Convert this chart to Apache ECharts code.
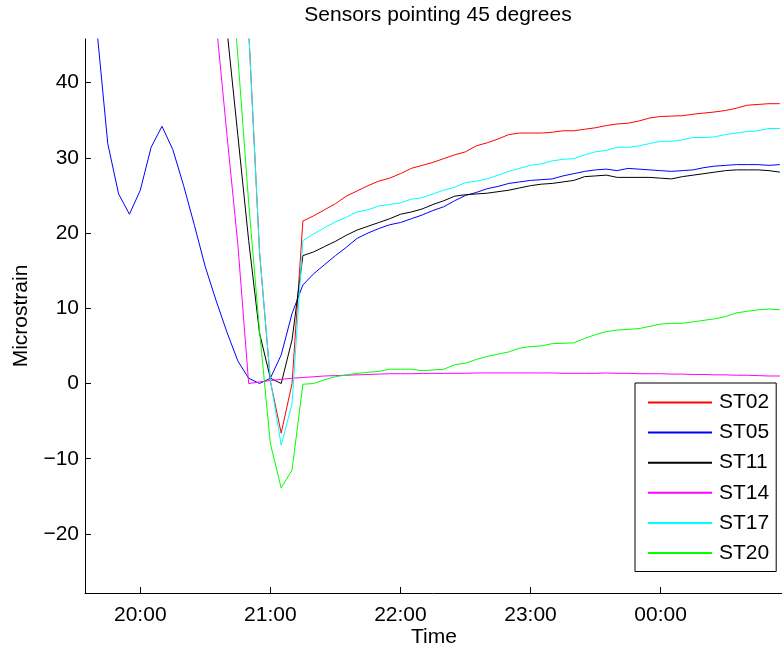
<!DOCTYPE html>
<html><head><meta charset="utf-8">
<script src="https://cdn.jsdelivr.net/npm/echarts@6/dist/echarts.min.js"></script>
<style>html,body{margin:0;padding:0;background:#fff}#c{width:782px;height:654px}</style>
</head><body><div id="c"></div>
<script>
const times = ["19:35","19:40","19:45","19:50","19:55","20:00","20:05","20:10","20:15","20:20",
"20:25","20:30","20:35","20:40","20:45","20:50","20:55","21:00","21:05","21:10",
"21:15","21:20","21:25","21:30","21:35","21:40","21:45","21:50","21:55","22:00",
"22:05","22:10","22:15","22:20","22:25","22:30","22:35","22:40","22:45","22:50",
"22:55","23:00","23:05","23:10","23:15","23:20","23:25","23:30","23:35","23:40",
"23:45","23:50","23:55","00:00","00:05","00:10","00:15","00:20","00:25","00:30",
"00:35","00:40","00:45","00:50","00:55"];

const ST02 = [null,null,null,null,null,null,null,null,null,null,
null,null,null,null,null,47,17.5,0.3,-6.6,0.0,
21.6,22.3,23.1,23.9,24.9,25.6,26.3,26.9,27.3,27.9,
28.6,29.0,29.4,29.9,30.4,30.8,31.6,32.0,32.5,33.1,
33.3,33.3,33.3,33.4,33.6,33.6,33.8,34.0,34.3,34.5,
34.6,34.9,35.3,35.5,35.55,35.6,35.8,35.95,36.1,36.3,
36.6,37.0,37.1,37.2,37.2];

const ST05 = [60,47,31.9,25.2,22.5,25.7,31.4,34.2,31.1,26.3,
21.0,15.5,11.0,6.8,3.0,0.7,0.0,0.7,3.8,9.3,
13.1,14.6,15.8,17.0,18.1,19.3,20.0,20.6,21.1,21.4,
21.9,22.4,23.0,23.5,24.3,25.0,25.4,25.9,26.2,26.6,
26.8,27.0,27.1,27.2,27.6,27.9,28.2,28.4,28.5,28.3,
28.6,28.5,28.4,28.3,28.2,28.3,28.4,28.7,28.9,29.0,
29.1,29.1,29.1,29.0,29.1];

const ST11 = [null,null,null,null,null,null,null,null,null,null,
null,null,61,47,33,19,6.7,0.7,0.0,5.8,
17.0,17.5,18.2,18.9,19.7,20.4,20.9,21.4,21.9,22.5,
22.8,23.2,23.8,24.3,24.9,25.1,25.2,25.3,25.5,25.7,
26.0,26.3,26.5,26.6,26.8,27.0,27.5,27.6,27.7,27.4,
27.4,27.4,27.4,27.3,27.2,27.5,27.7,27.9,28.1,28.3,
28.4,28.4,28.4,28.3,28.1];

const ST14 = [null,null,null,null,null,null,null,null,null,null,
null,null,48,33,18.5,0.0,0.2,0.4,0.55,0.7,
0.8,0.9,1.0,1.05,1.1,1.15,1.2,1.25,1.3,1.3,
1.3,1.35,1.35,1.35,1.35,1.35,1.4,1.4,1.4,1.4,
1.4,1.4,1.4,1.4,1.35,1.35,1.35,1.35,1.4,1.35,
1.35,1.3,1.3,1.3,1.25,1.25,1.2,1.2,1.15,1.15,
1.1,1.1,1.05,1.0,1.0];

const ST17 = [null,null,null,null,null,null,null,null,null,null,
null,null,null,null,null,47,17.5,0.5,-8.2,-2.7,
19.0,19.9,20.7,21.5,22.1,22.8,23.1,23.6,23.8,24.0,
24.5,24.7,25.2,25.7,26.1,26.7,26.9,27.2,27.7,28.2,
28.6,29.0,29.2,29.6,29.8,29.9,30.4,30.8,31.0,31.4,
31.4,31.6,31.9,32.2,32.2,32.4,32.7,32.7,32.8,33.1,
33.3,33.5,33.6,33.9,33.9];

const ST20 = [null,null,null,null,null,null,null,null,null,null,
null,null,null,62,43.5,24,7,-8.0,-13.9,-11.5,
-0.1,0.0,0.5,0.9,1.15,1.35,1.5,1.6,1.9,1.9,
1.9,1.7,1.8,1.9,2.5,2.7,3.2,3.6,3.9,4.2,
4.7,4.9,5.0,5.3,5.35,5.4,6.0,6.5,6.9,7.1,
7.2,7.3,7.6,7.9,8.0,8.0,8.2,8.4,8.6,8.9,
9.4,9.6,9.8,9.9,9.8];

const seriesNames = ["ST02","ST05","ST11","ST14","ST17","ST20"];
const seriesColors = ["#ff0000","#0000ff","#000000","#ff00ff","#00ffff","#00ff00"];
const xTickLabels = ["20:00","21:00","22:00","23:00","00:00"];
const yTickValues = [-20,-10,0,10,20,30,40];

function toMin(t){ let p=t.split(':').map(Number); let h=p[0]; if(h<12) h+=24; return (h-20)*60+p[1]; }
const xMinutes = times.map(toMin);
const xTickValues = xTickLabels.map(toMin);
const allSeries = [ST02,ST05,ST11,ST14,ST17,ST20];

const FONT = "'Liberation Sans', Arial, Helvetica, sans-serif";
const FS = 21;

const chart = echarts.init(document.getElementById('c'), null, {renderer:'canvas'});
chart.setOption({
  animation:false,
  backgroundColor:'#fff',
  color:seriesColors,
  textStyle:{fontFamily:FONT},
  grid:{left:85, right:0, top:39, bottom:61, containLabel:false},
  xAxis:{
    type:'value', min:-25.5, max:296,
    axisLine:{show:true, onZero:false, lineStyle:{color:'#000', width:1}},
    axisTick:{show:true, inside:true, length:6, customValues:xTickValues, lineStyle:{color:'#000'}},
    axisLabel:{show:true, customValues:xTickValues, margin:12, color:'#000', fontSize:FS, fontFamily:FONT,
      formatter:function(v){ const i=xTickValues.indexOf(v); return i>=0?xTickLabels[i]:''; }},
    splitLine:{show:false}
  },
  yAxis:{
    type:'value', min:-27.85, max:45.8,
    axisLine:{show:true, onZero:false, lineStyle:{color:'#000', width:1}},
    axisTick:{show:true, inside:true, length:6, customValues:yTickValues, lineStyle:{color:'#000'}},
    axisLabel:{show:true, customValues:yTickValues, margin:6, color:'#000', fontSize:FS, fontFamily:FONT,
      formatter:function(v){ return v<0 ? '\u2212'+Math.abs(v) : String(v); }},
    splitLine:{show:false}
  },
  legend:{
    data:seriesNames.map(function(n, i){ return {name:n, icon:'rect', itemStyle:{color:seriesColors[i], borderWidth:0}}; }),
    orient:'vertical', left:635, top:383,
    padding:[9,7,8,13], itemWidth:64, itemHeight:2, itemGap:9.1,
    borderColor:'#000', borderWidth:1, backgroundColor:'#fff',
    textStyle:{fontSize:FS, color:'#000', fontFamily:FONT, padding:[0,0,0,2]}
  },
  graphic:[
    {type:'text', x:438, y:15, style:{text:'Sensors pointing 45 degrees', font:FS+'px '+FONT, fill:'#000', align:'center', verticalAlign:'middle'}},
    {type:'text', x:434, y:637, style:{text:'Time', font:FS+'px '+FONT, fill:'#000', align:'center', verticalAlign:'middle'}},
    {type:'text', x:21, y:316, rotation:Math.PI/2, style:{text:'Microstrain', font:FS+'px '+FONT, fill:'#000', align:'center', verticalAlign:'middle'}}
  ],
  series: allSeries.map(function(arr, i){
    return {
      name:seriesNames[i], type:'line', symbol:'none', showSymbol:false, clip:true,
      itemStyle:{color:seriesColors[i]},
      lineStyle:{color:seriesColors[i], width:1},
      data: arr.map(function(v, j){ return [xMinutes[j], v]; })
    };
  })
});
</script>
</body></html>
